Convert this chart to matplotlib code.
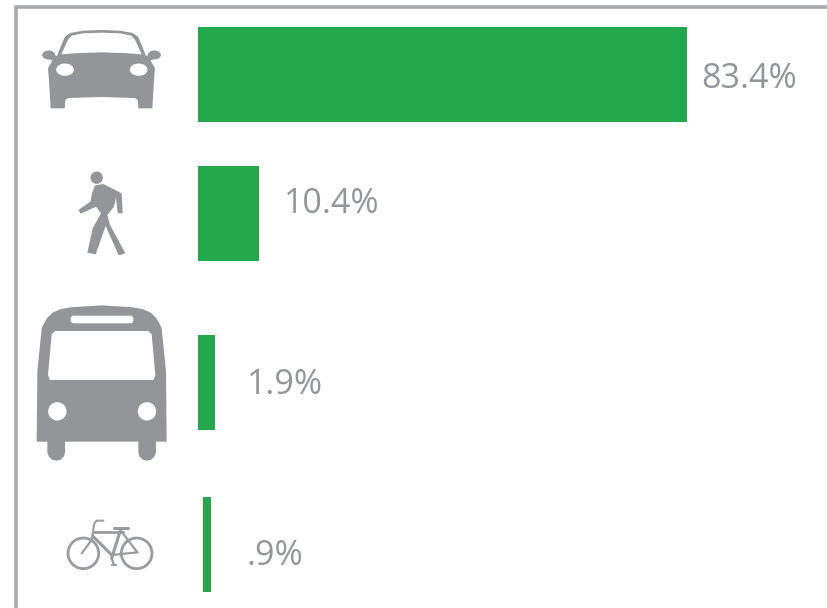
import matplotlib
matplotlib.use("Agg")
import matplotlib.pyplot as plt
from matplotlib.patches import Polygon, Circle, Ellipse, FancyBboxPatch
from matplotlib.lines import Line2D

modes = ["Car", "Walk", "Bus", "Bike"]
labels = ["83.4%", "10.4%", "1.9%", ".9%"]
bar_lengths = [83.4, 10.4, 2.9, 1.4]
bar_starts = [0, 0, 0, 0.85]

GREEN = "#23a84b"
GREY = "#939598"
FRAME = "#a7a9ac"

W, H = 828, 608
fig = plt.figure(figsize=(W / 100, H / 100), dpi=100, facecolor="white")

# pixel-coordinate layer for frame, icons, labels
px = fig.add_axes([0, 0, 1, 1])
px.set_xlim(0, W)
px.set_ylim(H, 0)
px.axis("off")

# bar layer: x axis is in percent
ax = fig.add_axes([198 / W, 0, 489 / W, 1])
ax.set_xlim(0, 83.4)
ax.set_ylim(H, 0)
ax.axis("off")
ax.patch.set_alpha(0)
row_centres = [74.5, 213.5, 382.5, 544.5]
ax.barh(row_centres, bar_lengths, left=bar_starts, height=95, color=GREEN, linewidth=0)

# frame
px.add_line(Line2D([15.8, 15.8, W], [H, 7, 7], color=FRAME, lw=2.6, solid_joinstyle="miter"))

# value labels
label_x = [701, 284, 247, 247]
label_y = [75, 200, 381, 552]
for s, x, y in zip(labels, label_x, label_y):
    px.text(x, y, s, fontsize=24.5, color=GREY, family="Open Sans",
            va="center_baseline", ha="left")


def tr(pts, ox, oy, mirror=None):
    pts = list(pts)
    if mirror is not None:
        pts = pts + [(2 * mirror - x, y) for x, y in reversed(pts)]
    return [(ox + x / 3, oy + y / 3) for x, y in pts]


def poly(pts, color=GREY):
    px.add_patch(Polygon(pts, closed=True, facecolor=color, edgecolor="none", zorder=3))


# car icon
ox, oy = 0, 0
m = 304.5
poly(tr([(304, 90), (360, 92), (398, 99), (414, 110), (427, 140), (438, 168), (462, 160),
         (462, 176), (452, 182), (465, 205), (462, 240), (457, 325), (415, 325), (413, 300),
         (404, 294), (304, 291)], ox, oy, m))
poly(tr([(304, 98), (360, 100), (394, 107), (405, 119), (425, 163), (370, 159), (304, 157)],
        ox, oy, m), "white")
for cx in (146, 463):
    px.add_patch(Ellipse((cx / 3, 165 / 3), 39 / 3, 27 / 3, facecolor=GREY, edgecolor="none", zorder=3))
for cx in (195, 416):
    px.add_patch(Ellipse((cx / 3, 209 / 3), 53 / 3, 37 / 3, facecolor="white", edgecolor="none", zorder=4))

# pedestrian icon
ox, oy = 50, 160
poly(tr([(135, 76), (160, 72), (215, 100), (218, 160), (203, 160), (198, 113), (192, 140),
         (172, 165), (180, 195), (202, 235), (226, 280), (206, 286), (167, 198),
         (137, 283), (112, 278), (128, 205), (153, 160), (138, 140), (92, 161), (85, 150),
         (122, 124), (126, 100)], ox, oy))
px.add_patch(Circle((ox + 140 / 3, oy + 53 / 3), 18.5 / 3, facecolor=GREY, edgecolor="none", zorder=3))

# bus icon
ox, oy = 20, 295
m = 245
poly(tr([(245, 31), (340, 37), (370, 43), (392, 53), (408, 68), (418, 85), (425, 100), (438, 230),
         (440, 440), (408, 440), (408, 472), (404, 484), (394, 494), (381, 497), (368, 494),
         (358, 484), (355, 472), (355, 440), (245, 440)], ox, oy, m))
poly(tr([(245, 108), (385, 108), (395, 118), (406, 240), (400, 255), (245, 255)], ox, oy, m), "white")
px.add_patch(FancyBboxPatch((ox + 152 / 3, oy + 62 / 3), 188 / 3, 23 / 3,
                            boxstyle="round,pad=0,rounding_size=3",
                            facecolor="white", edgecolor="none", zorder=4))
for cx in (112, 381):
    px.add_patch(Circle((ox + cx / 3, oy + 349 / 3), 27.5 / 3, facecolor="white", edgecolor="none", zorder=4))

# bicycle icon
ox, oy = 0, 490
for cx in (250, 410):
    px.add_patch(Circle((ox + cx / 3, oy + 190 / 3), 46 / 3, facecolor="none",
                        edgecolor="#9a9b9e", lw=2.0, zorder=3))
segments = [
    ([(310, 92), (290, 92), (283, 100), (275, 150), (245, 190)], 1.5),
    ([(283, 125), (368, 125)], 2.0),
    ([(278, 138), (335, 195)], 2.2),
    ([(362, 118), (335, 205)], 2.2),
    ([(335, 195), (412, 187)], 1.6),
    ([(365, 125), (412, 187)], 1.6),
    ([(343, 113), (385, 113)], 2.2),
    ([(335, 205), (342, 225)], 1.6),
    ([(337, 225), (347, 225)], 1.6),
]
for pts, lw in segments:
    p = tr(pts, ox, oy)
    px.add_line(Line2D([a for a, _ in p], [b for _, b in p], color="#9a9b9e", lw=lw, zorder=3,
                       solid_capstyle="round"))

fig.savefig("out.png", dpi=100, facecolor="white")
